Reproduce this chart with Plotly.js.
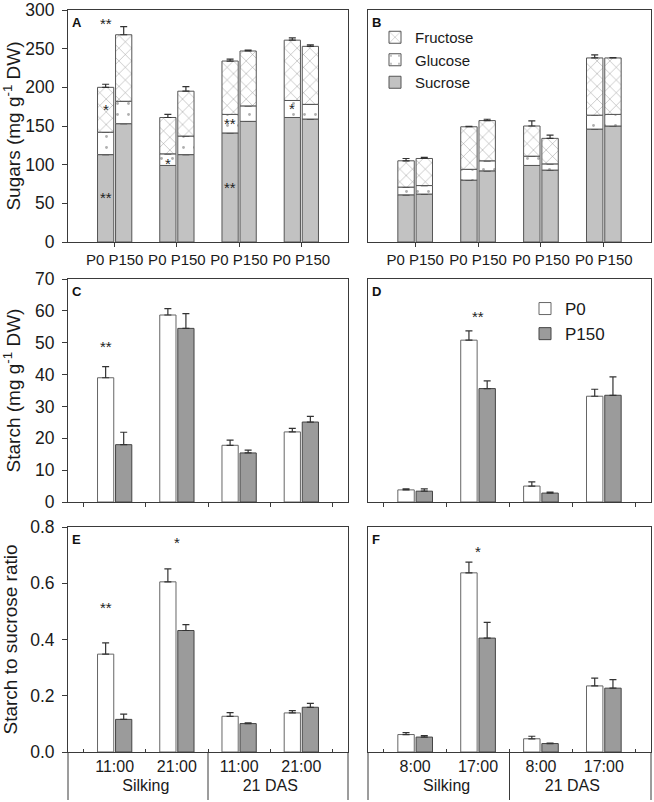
<!DOCTYPE html>
<html><head><meta charset="utf-8">
<script src="https://cdn.plot.ly/plotly-3.0.1.min.js"></script>
<style>html,body{margin:0;padding:0;background:#fff}#chart{width:654px;height:802px}</style>
</head><body><div id="chart"></div>
<script>
// ---------------- data ----------------
const groups = [0, 1, 2, 3];
const treatments = ["P0", "P150"];
const sugarNames = ["Sucrose", "Glucose", "Fructose"];
const stageLabels = ["Silking", "Silking", "21 DAS", "21 DAS"];
const timesLeft = ["11:00", "21:00", "11:00", "21:00"];
const timesRight = ["8:00", "17:00", "8:00", "17:00"];

// Panel A (sugars, mg g-1 DW), segment heights
const A_P0_suc = [113, 99, 141, 161];
const A_P0_glu = [29, 15, 24, 22];
const A_P0_fru = [58, 47, 69, 78];
const A_P0_suc_err = [4, 2, 3, 5.5];
const A_P0_glu_err = [1, 1, 1, 2];
const A_P0_fru_err = [4, 4, 2.5, 3];
const A_P150_suc = [153, 113, 156, 159];
const A_P150_glu = [29, 24, 20, 19];
const A_P150_fru = [86, 58, 71, 75];
const A_P150_suc_err = [7, 7, 3, 5];
const A_P150_glu_err = [1, 2, 0.5, 1];
const A_P150_fru_err = [10.5, 6, 1.3, 2];

// Panel B
const B_P0_suc = [61, 80, 99, 146];
const B_P0_glu = [10, 14, 12, 18];
const B_P0_fru = [34, 55, 39, 74];
const B_P0_suc_err = [4, 1, 11, 15];
const B_P0_glu_err = [0.5, 1, 1, 1];
const B_P0_fru_err = [3, 0.5, 6.5, 4];
const B_P150_suc = [62, 92, 93, 150];
const B_P150_glu = [11, 13, 8, 15];
const B_P150_fru = [35, 52, 33, 73];
const B_P150_suc_err = [4.5, 9, 4, 20];
const B_P150_glu_err = [1, 1, 1, 7];
const B_P150_fru_err = [1.3, 1.7, 4.3, 0.5];

// Panel C, D (starch, mg g-1 DW)
const C_P0 = [39, 58.7, 17.8, 22];
const C_P0_err = [3.5, 2, 1.6, 1.1];
const C_P150 = [18, 54.5, 15.4, 25.1];
const C_P150_err = [3.9, 4.6, 0.9, 1.8];
const D_P0 = [3.8, 50.8, 5, 33.2];
const D_P0_err = [0.3, 2.9, 1.3, 2.2];
const D_P150 = [3.4, 35.6, 2.8, 33.5];
const D_P150_err = [0.7, 2.4, 0.3, 5.8];

// Panel E, F (starch to sucrose ratio)
const E_P0 = [0.348, 0.605, 0.127, 0.139];
const E_P0_err = [0.04, 0.046, 0.013, 0.008];
const E_P150 = [0.116, 0.432, 0.101, 0.159];
const E_P150_err = [0.019, 0.021, 0.003, 0.014];
const F_P0 = [0.062, 0.637, 0.047, 0.235];
const F_P0_err = [0.007, 0.038, 0.009, 0.028];
const F_P150 = [0.053, 0.405, 0.030, 0.227];
const F_P150_err = [0.005, 0.056, 0.002, 0.03];

// significance marks: group index, bar (-1 = P0, 0 = between), value, text
const sigA_group = [0, 0, 0, 1, 2, 2, 3];
const sigA_bar = [-1, -1, -1, -1, -1, -1, -1];
const sigA_value = [287, 175, 61, 105, 157, 74, 176];
const sigA_text = ["**", "*", "**", "*", "**", "**", "*"];
const sigC_group = [0], sigC_bar = [-1], sigC_value = [49.6], sigC_text = ["**"];
const sigD_group = [1], sigD_bar = [0], sigD_value = [59.3], sigD_text = ["**"];
const sigE_group = [0, 1], sigE_bar = [-1, 0], sigE_value = [0.523, 0.754], sigE_text = ["**", "*"];
const sigF_group = [1], sigF_bar = [0], sigF_value = [0.725], sigF_text = ["*"];

// ---------------- styling ----------------
const FONT = 'Arial, "Liberation Sans", sans-serif';
const TXT = '#1a1a1a';
const LINE = '#3a3a3a';
const BARLINE = '#555';
const BARGAP = 0.42, BARGROUPGAP = 0.1;
const W = 654, H = 802;
const xL = [68 / W, 348 / W], xR = [368 / W, 651 / W];
const yT = [(H - 242) / H, (H - 10) / H];
const yM = [(H - 502) / H, (H - 279) / H];
const yB = [(H - 752) / H, (H - 527) / H];

const sugarStyle = {
  Sucrose: {color: '#c2c2c2', line: {color: BARLINE, width: 1}},
  Glucose: {color: 'white', line: {color: BARLINE, width: 1},
            pattern: {shape: '.', fgcolor: '#b0b0b0', bgcolor: 'white', size: 11, solidity: 0.05}},
  Fructose: {color: 'white', line: {color: BARLINE, width: 1},
             pattern: {shape: 'x', fgcolor: '#909090', bgcolor: 'white', size: 9, solidity: 0.1}}
};
const treatStyle = {
  P0: {color: 'white', line: {color: '#666', width: 1}},
  P150: {color: '#9b9b9b', line: {color: '#444', width: 1}}
};
function errUp(arr) {
  return {type: 'data', symmetric: false, array: arr, arrayminus: arr.map(() => 0),
          color: '#333', thickness: 1.2, width: 3.5};
}

const traces = [];
function stacked(xa, ya, treat, suc, glu, fru, sucE, gluE, fruE, showLeg) {
  const base2 = suc.map(v => v);
  const base3 = suc.map((v, i) => v + glu[i]);
  const segs = [[suc, sucE, null], [glu, gluE, base2], [fru, fruE, base3]];
  segs.forEach((s, k) => {
    const name = sugarNames[k];
    const t = {type: 'bar', x: groups, y: s[0], name: name, xaxis: xa, yaxis: ya,
      offsetgroup: treat, marker: sugarStyle[name], error_y: errUp(s[1]),
      showlegend: showLeg, legend: 'legend', hoverinfo: 'skip'};
    if (s[2]) t.base = s[2];
    traces.push(t);
  });
}
stacked('x', 'y', 'P0', A_P0_suc, A_P0_glu, A_P0_fru, A_P0_suc_err, A_P0_glu_err, A_P0_fru_err, false);
stacked('x', 'y', 'P150', A_P150_suc, A_P150_glu, A_P150_fru, A_P150_suc_err, A_P150_glu_err, A_P150_fru_err, false);
stacked('x2', 'y2', 'P0', B_P0_suc, B_P0_glu, B_P0_fru, B_P0_suc_err, B_P0_glu_err, B_P0_fru_err, true);
stacked('x2', 'y2', 'P150', B_P150_suc, B_P150_glu, B_P150_fru, B_P150_suc_err, B_P150_glu_err, B_P150_fru_err, false);

function pair(xa, ya, xcats, p0, p0e, p150, p150e, showLeg) {
  [[p0, p0e, 'P0'], [p150, p150e, 'P150']].forEach(s => {
    traces.push({type: 'bar', x: xcats, y: s[0], name: s[2], xaxis: xa, yaxis: ya,
      offsetgroup: s[2], marker: treatStyle[s[2]], error_y: errUp(s[1]),
      showlegend: showLeg, legend: 'legend2', hoverinfo: 'skip'});
  });
}
const catsLeft = [stageLabels, timesLeft];
const catsRight = [stageLabels, timesRight];
pair('x3', 'y3', catsLeft, C_P0, C_P0_err, C_P150, C_P150_err, false);
pair('x4', 'y4', catsRight, D_P0, D_P0_err, D_P150, D_P150_err, true);
pair('x5', 'y5', catsLeft, E_P0, E_P0_err, E_P150, E_P150_err, false);
pair('x6', 'y6', catsRight, F_P0, F_P0_err, F_P150, F_P150_err, false);

// ---------------- axes ----------------
const XR = [-0.75, 3.75];
function xax(domain, anchor, extra) {
  return Object.assign({domain: domain, anchor: anchor, range: XR, showline: true, mirror: true,
    linecolor: LINE, linewidth: 1, showgrid: false, zeroline: false, ticks: 'outside', ticklen: 4,
    tickcolor: LINE, tickangle: 0, ticklabeloverflow: 'allow',
    tickfont: {family: FONT, size: 16, color: TXT}, fixedrange: true}, extra);
}
function yax(domain, anchor, range, extra) {
  return Object.assign({domain: domain, anchor: anchor, range: range, showline: true, mirror: true,
    linecolor: LINE, linewidth: 1, showgrid: false, zeroline: false, ticks: 'outside', ticklen: 5,
    tickcolor: LINE, ticklabeloverflow: 'allow',
    tickfont: {family: FONT, size: 17.5, color: TXT}, fixedrange: true}, extra);
}
const pairLabel = treatments.join(' ');
const pairFont = {family: FONT, size: 15, color: TXT};
const layout = {
  width: W, height: H, margin: {l: 0, r: 0, t: 0, b: 0},
  paper_bgcolor: 'white', plot_bgcolor: 'white',
  font: {family: FONT, color: TXT},
  barmode: 'group', bargap: BARGAP, bargroupgap: BARGROUPGAP,
  xaxis: xax(xL, 'y', {tickmode: 'array', tickvals: groups, ticktext: groups.map(() => pairLabel), tickfont: pairFont}),
  xaxis2: xax(xR, 'y2', {tickmode: 'array', tickvals: groups, ticktext: groups.map(() => pairLabel), tickfont: pairFont}),
  xaxis3: xax(xL, 'y3', {type: 'multicategory', showticklabels: false, showdividers: false}),
  xaxis4: xax(xR, 'y4', {type: 'multicategory', showticklabels: false, showdividers: false}),
  xaxis5: xax(xL, 'y5', {type: 'multicategory', showdividers: false, ticks: 'inside', ticklen: 3}),
  xaxis6: xax(xR, 'y6', {type: 'multicategory', showdividers: false, ticks: 'inside', ticklen: 3}),
  yaxis: yax(yT, 'x', [0, 300], {dtick: 50, ticklabelstandoff: 4,
    title: {text: 'Sugars (mg g<sup>-1</sup> DW)', font: {family: FONT, size: 19, color: TXT}, standoff: 4}}),
  yaxis2: yax(yT, 'x2', [0, 300], {dtick: 50, showticklabels: false, ticks: ''}),
  yaxis3: yax(yM, 'x3', [0, 70], {dtick: 10, ticklabelstandoff: 4,
    title: {text: 'Starch (mg g<sup>-1</sup> DW)', font: {family: FONT, size: 19, color: TXT}, standoff: 15}}),
  yaxis4: yax(yM, 'x4', [0, 70], {dtick: 10, showticklabels: false, ticks: ''}),
  yaxis5: yax(yB, 'x5', [0, 0.8], {dtick: 0.2, tickformat: '.1f', ticklabelstandoff: 4,
    title: {text: 'Starch to sucrose ratio', font: {family: FONT, size: 19, color: TXT}, standoff: 9}}),
  yaxis6: yax(yB, 'x6', [0, 0.8], {dtick: 0.2, showticklabels: false, ticks: ''}),
  legend: {x: 375 / W, y: (H - 21) / H, xanchor: 'left', yanchor: 'top', traceorder: 'reversed',
    bgcolor: 'rgba(0,0,0,0)', font: {family: FONT, size: 15, color: TXT}, tracegroupgap: 0},
  legend2: {x: 525 / W, y: (H - 291) / H, xanchor: 'left', yanchor: 'top', traceorder: 'normal',
    bgcolor: 'rgba(0,0,0,0)', font: {family: FONT, size: 17, color: TXT}},
  annotations: [], shapes: []
};

// panel letters
const panelAxes = [['A', 'x', 'y'], ['B', 'x2', 'y2'], ['C', 'x3', 'y3'], ['D', 'x4', 'y4'], ['E', 'x5', 'y5'], ['F', 'x6', 'y6']];
panelAxes.forEach(p => layout.annotations.push({text: '<b>' + p[0] + '</b>', xref: p[1] + ' domain', yref: p[2] + ' domain',
  x: 0.006, y: 0.985, xanchor: 'left', yanchor: 'top', showarrow: false, font: {family: FONT, size: 13, color: '#111'}}));

// significance marks
const barOffset = (1 - BARGAP) / 4;
function sig(xa, ya, g, b, v, t) {
  g.forEach((gi, i) => layout.annotations.push({text: t[i], xref: xa, yref: ya, x: gi + b[i] * barOffset, y: v[i],
    showarrow: false, yshift: -3, font: {family: FONT, size: 15, color: '#222'}}));
}
sig('x', 'y', sigA_group, sigA_bar, sigA_value, sigA_text);
sig('x3', 'y3', sigC_group, sigC_bar, sigC_value, sigC_text);
sig('x4', 'y4', sigD_group, sigD_bar, sigD_value, sigD_text);
sig('x5', 'y5', sigE_group, sigE_bar, sigE_value, sigE_text);
sig('x6', 'y6', sigF_group, sigF_bar, sigF_value, sigF_text);

// divider lines below the bottom panels
['x5', 'x6'].forEach(xa => {
  [[xa + ' domain', 0], [xa, 1.5], [xa + ' domain', 1]].forEach(d => {
    layout.shapes.push({type: 'line', xref: d[0], yref: 'paper', x0: d[1], x1: d[1], y0: 2 / H, y1: yB[0],
      line: {color: LINE, width: 1}});
  });
});

Plotly.newPlot('chart', traces, layout, {staticPlot: true, displayModeBar: false});
</script></body></html>
